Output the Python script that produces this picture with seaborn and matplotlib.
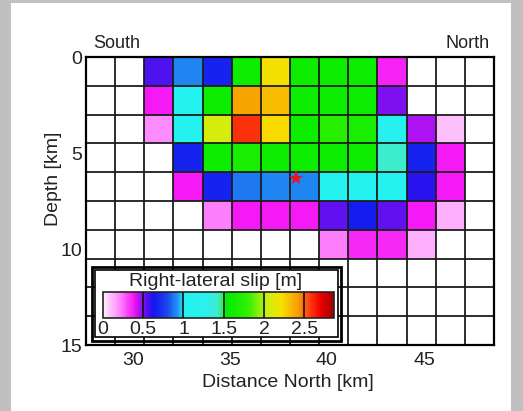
import numpy as np
import pandas as pd
import matplotlib
matplotlib.use("Agg")
import matplotlib.pyplot as plt
import seaborn as sns
from matplotlib.colors import LinearSegmentedColormap
from matplotlib.patches import Rectangle

# ---- slip model: 14 subfaults along strike x 10 down dip, 1.5 km each ----
patch_km = 1.5
fault_start_km = 27.6
n_cols = 14
depth_top_km = [0.0, 1.5, 3.0, 4.5, 6.0, 7.5, 9.0, 10.5, 12.0, 13.5]

# right-lateral slip in metres, one list per depth row (0 = no slip)
slip_row_0 = [0, 0, 0.55, 0.90, 0.68, 1.60, 2.20, 1.60, 1.60, 1.60, 0.36, 0, 0, 0]
slip_row_1 = [0, 0, 0.38, 1.05, 1.60, 2.40, 2.33, 1.60, 1.60, 1.60, 0.50, 0, 0, 0]
slip_row_2 = [0, 0, 0.20, 1.05, 2.08, 2.60, 2.24, 1.60, 1.75, 1.68, 1.10, 0.45, 0.10, 0]
slip_row_3 = [0, 0, 0, 0.68, 1.60, 1.68, 1.60, 1.60, 1.60, 1.60, 1.42, 0.68, 0.38, 0]
slip_row_4 = [0, 0, 0, 0.38, 0.68, 0.88, 0.90, 0.90, 1.05, 1.05, 1.06, 0.60, 0.38, 0]
slip_row_5 = [0, 0, 0, 0, 0.22, 0.38, 0.38, 0.38, 0.53, 0.66, 0.53, 0.38, 0.13, 0]
slip_row_6 = [0, 0, 0, 0, 0, 0, 0, 0, 0.22, 0.35, 0.35, 0.13, 0, 0]
slip_row_7 = [0] * 14
slip_row_8 = [0] * 14
slip_row_9 = [0] * 14

hypo_distance_km = 38.4
hypo_depth_km = 6.3

x_ticks_km = [30, 35, 40, 45]
y_ticks_km = [0, 5, 10, 15]
cbar_ticks = [0, 0.5, 1, 1.5, 2, 2.5]
slip_max = 2.87

# ---- table for the heatmap ----
distance_left_km = [fault_start_km + i * patch_km for i in range(n_cols)]
slip = pd.DataFrame(
    [slip_row_0, slip_row_1, slip_row_2, slip_row_3, slip_row_4,
     slip_row_5, slip_row_6, slip_row_7, slip_row_8, slip_row_9],
    index=depth_top_km, columns=distance_left_km,
)

def km_to_col(x):
    return (np.asarray(x, dtype=float) - fault_start_km) / patch_km

def km_to_row(z):
    return np.asarray(z, dtype=float) / patch_km

# slip colour scale: pink -> magenta -> blue -> cyan -> green -> yellow -> red
stops = [
    (0.00, "#fbedfb"), (0.20, "#ff88ff"), (0.38, "#f414f4"), (0.50, "#7a10f0"),
    (0.62, "#1414ee"), (0.78, "#1a40ee"), (0.92, "#2090f2"), (1.00, "#22f2f2"),
    (1.30, "#2ef0ea"), (1.42, "#3ceccc"), (1.49, "#30ec60"), (1.53, "#00ec00"),
    (1.80, "#30f000"), (2.05, "#ccf010"), (2.22, "#f8e000"), (2.42, "#f8a000"),
    (2.55, "#ff4a10"), (2.70, "#f40000"), (2.87, "#a00000"),
]
cmap = LinearSegmentedColormap.from_list(
    "slip", [(v / slip_max, c) for v, c in stops]
)

sns.set_style("white")
plt.rcParams["font.family"] = ["Liberation Sans", "DejaVu Sans"]

W, H = 523, 411
fig = plt.figure(figsize=(W / 100, H / 100), dpi=100, facecolor="#c0c0c0")
fig.add_artist(Rectangle((11 / W, 0), (511 - 11) / W, (H - 3) / H,
                         transform=fig.transFigure, facecolor="white",
                         edgecolor="none", zorder=-10))

ax = fig.add_axes([86 / W, 1 - 345 / H, 408 / W, 288 / H])
sns.heatmap(slip, ax=ax, mask=(slip == 0), cmap=cmap, vmin=0, vmax=slip_max,
            cbar=False, xticklabels=False, yticklabels=False)
ax.set_xlim(0, n_cols)
ax.set_ylim(len(depth_top_km), 0)

# subfault grid
for i in range(n_cols + 1):
    ax.axvline(i, color="#1c1c1c", lw=1.3, zorder=2)
for j in range(len(depth_top_km) + 1):
    ax.axhline(j, color="#1c1c1c", lw=1.3, zorder=2)

for s in ax.spines.values():
    s.set_visible(True)
    s.set_color("black")
    s.set_linewidth(1.6)
    s.set_zorder(3)

ax.set_xticks(km_to_col(x_ticks_km))
ax.set_xticklabels([str(v) for v in x_ticks_km])
ax.set_yticks(km_to_row(y_ticks_km))
ax.set_yticklabels([str(v) for v in y_ticks_km])
ax.tick_params(axis="x", length=0, labelsize=14, pad=5, colors="#222222")
ax.tick_params(axis="y", length=0, labelsize=14, pad=3, colors="#222222")

ax.set_xlabel("Distance North [km]", fontsize=14, color="#222222")
ax.xaxis.label.set_va("center")
ax.xaxis.set_label_coords((288 - 86) / 408, (345 - 382) / 288)
ax.set_ylabel("Depth [km]", fontsize=14, color="#222222")
ax.yaxis.label.set_va("center")
ax.yaxis.set_label_coords((53 - 86) / 408, (345 - 179) / 288)

# hypocentre
ax.plot(km_to_col(hypo_distance_km), km_to_row(hypo_depth_km), marker="*",
        color="#e81420", markersize=11, markeredgewidth=0, zorder=4,
        clip_on=False)

fig.text(93 / W, 1 - 43 / H, "South", fontsize=13, ha="left", va="center",
         color="#222222")
fig.text(490 / W, 1 - 43 / H, "North", fontsize=13, ha="right", va="center",
         color="#222222")

# colour-scale box
fig.add_artist(Rectangle((95 / W, 1 - 337 / H), (338 - 95) / W, (337 - 270) / H,
                         transform=fig.transFigure, facecolor="white",
                         edgecolor="black", lw=1.2, zorder=2.5))
fig.add_artist(Rectangle((92 / W, 1 - 341 / H), (341 - 92) / W, (341 - 267) / H,
                         transform=fig.transFigure, fill=False,
                         edgecolor="black", lw=2.0, zorder=2.6))

cax = fig.add_axes([103 / W, 1 - 318 / H, 231 / W, 26 / H])
cax.set_zorder(5)
cb = fig.colorbar(ax.collections[0], cax=cax, orientation="horizontal",
                  ticks=cbar_ticks)
cb.set_ticklabels(["0", "0.5", "1", "1.5", "2", "2.5"])
cb.outline.set_linewidth(1.2)
cb.outline.set_edgecolor("#222222")
for t in cbar_ticks[1:]:
    cax.axvline(t, color="#111111", lw=1.2)
cax.tick_params(length=0, labelsize=14, pad=2, colors="#222222")
fig.text(216 / W, 1 - 286 / H, "Right-lateral slip [m]", fontsize=14,
         ha="center", va="baseline", color="#222222", zorder=6)

fig.savefig("out.png", dpi=100, facecolor=fig.get_facecolor())
